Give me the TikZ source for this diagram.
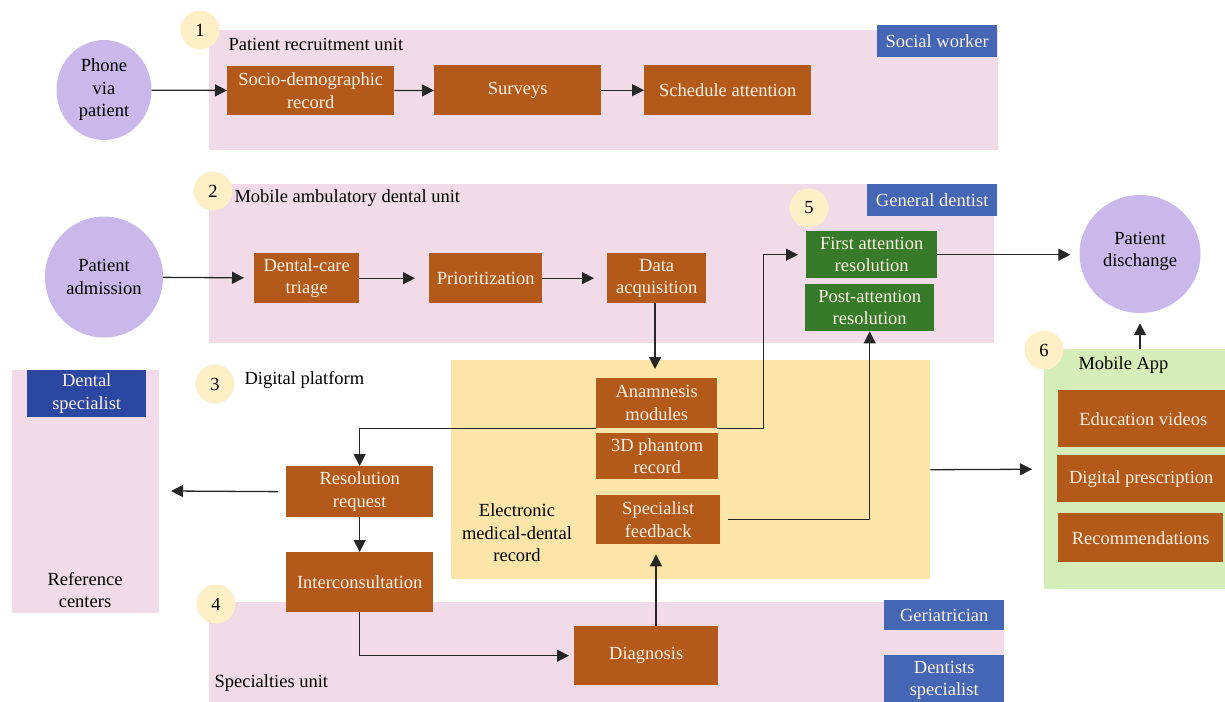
\documentclass[tikz,border=0pt]{standalone}
\usepackage{fontspec}
\usepackage{xcolor}
\usetikzlibrary{arrows.meta}
\usetikzlibrary{shapes.geometric}
\setmainfont{Liberation Serif}

\definecolor{unitpink}{HTML}{F2DBE8}
\definecolor{stepbrown}{HTML}{B35A1A}
\definecolor{stepgreen}{HTML}{367A2A}
\definecolor{roleblue}{HTML}{4566B4}
\definecolor{roledark}{HTML}{2B47A1}
\definecolor{platyellow}{HTML}{FCE5A9}
\definecolor{appgreen}{HTML}{D4EDB9}
\definecolor{dotyellow}{HTML}{FDF0C6}
\definecolor{endpurple}{HTML}{CBB8EA}
\definecolor{boxtext}{HTML}{FBF0E4}

\tikzset{
  region/.style={fill=unitpink, anchor=north west, inner sep=0pt},
  task/.style={fill=stepbrown, text=boxtext, align=center, anchor=north west, inner sep=0pt},
  done/.style={task, fill=stepgreen},
  role/.style={fill=roleblue, text=boxtext, align=center, anchor=north west, inner sep=0pt},
  numdot/.style={circle, fill=dotyellow, minimum size=39pt, inner sep=0pt},
  patient/.style={ellipse, fill=endpurple, align=center, inner sep=0pt},
  flow/.style={->, line width=1.3pt, draw=black!85},
  >={Triangle[length=12pt, width=12pt]}
}

\begin{document}
\begin{tikzpicture}[x=1pt, y=-1pt, font=\fontsize{18.5}{22.5}\selectfont]
      \useasboundingbox (0,0) rectangle (1225,701);

      % areas
      \node[region, minimum width=789pt, minimum height=120pt] (unit1) at (209,30) {};
      \node[region, minimum width=785pt, minimum height=159pt] (unit2) at (209,184) {};
      \node[region, minimum width=795pt, minimum height=110pt] (unit4) at (209,602) {};
      \node[region, minimum width=147pt, minimum height=243pt] (refctr) at (12,370) {};
      \node[region, fill=platyellow, minimum width=479pt, minimum height=219pt] (platform) at (451,360) {};
      \node[region, fill=appgreen, minimum width=200pt, minimum height=240pt] (mobapp) at (1044,349) {};

      \node[anchor=west] (unit1lbl) at (225,44) {Patient recruitment unit};
      \node[anchor=west] (unit2lbl) at (231,198) {Mobile ambulatory dental unit};
      \node[anchor=west] (platlbl) at (241,380) {Digital platform};
      \node[anchor=west] (unit4lbl) at (211,683) {Specialties unit};
      \node[anchor=west] (mobapplbl) at (1075,365) {Mobile App};
      \node[align=center] (refctrlbl) at (85,590) {Reference\\centers};
      \node[align=center] (emrlbl) at (517,533) {Electronic\\medical-dental\\record};

      \foreach \n/\x/\y in {1/200/30, 2/213/191, 3/215/384, 4/216/604, 5/809/208, 6/1044/350}
        \node[numdot] (num\n) at (\x,\y) {\n};

      % roles
      \node[role, minimum width=120pt, minimum height=32pt] (social) at (877,25) {Social worker};
      \node[role, minimum width=130pt, minimum height=32pt] (gendent) at (867,184) {General dentist};
      \node[role, minimum width=120pt, minimum height=30pt] (geri) at (884,600) {Geriatrician};
      \node[role, minimum width=120pt, minimum height=50pt] (dentspec) at (884,655) {Dentists\\specialist};
      \node[role, fill=roledark, minimum width=119pt, minimum height=47pt] (dentalspec) at (27,370) {Dental\\specialist};

      % patients
      \node[patient, minimum width=95pt, minimum height=100pt] (phone) at (104,90) {Phone\\via\\patient};
      \node[patient, minimum width=118pt, minimum height=121pt] (admission) at (104,277) {Patient\\admission};
      \node[patient, minimum width=121pt, minimum height=118pt] (discharge) at (1140,254) {Patient\\dischange\\[-13pt]{}};

      % steps
      \node[task, minimum width=167pt, minimum height=49pt] (socio) at (227,66) {Socio-demographic\\record};
      \node[task, minimum width=167pt, minimum height=50pt] (surveys) at (434,65) {Surveys};
      \node[task, minimum width=167pt, minimum height=50pt] (schedule) at (644,65) {Schedule attention};
      \node[task, minimum width=105pt, minimum height=50pt] (triage) at (254,253) {Dental-care\\triage};
      \node[task, minimum width=113pt, minimum height=50pt] (prior) at (429,253) {Prioritization};
      \node[task, minimum width=99pt, minimum height=50pt] (dataacq) at (607,253) {Data\\acquisition};
      \node[done, minimum width=131pt, minimum height=47pt] (first) at (806,231) {First attention\\resolution};
      \node[done, minimum width=129pt, minimum height=47pt] (post) at (805,284) {Post-attention\\resolution};
      \node[task, minimum width=121pt, minimum height=50pt] (anam) at (596,378) {Anamnesis\\modules};
      \node[task, minimum width=122pt, minimum height=46pt] (phantom) at (596,433) {3D phantom\\record};
      \node[task, minimum width=124pt, minimum height=49pt] (specfb) at (596,495) {Specialist\\feedback};
      \node[task, minimum width=147pt, minimum height=51pt] (resreq) at (286,466) {Resolution\\request};
      \node[task, minimum width=147pt, minimum height=60pt] (inter) at (286,552) {Interconsultation};
      \node[task, minimum width=144pt, minimum height=59pt] (diag) at (574,626) {Diagnosis};
      \node[task, minimum width=170pt, minimum height=57pt] (edu) at (1058,390) {Education videos};
      \node[task, minimum width=168pt, minimum height=47pt] (presc) at (1057,455) {Digital prescription};
      \node[task, minimum width=165pt, minimum height=49pt] (recom) at (1058,513) {Recommendations};

      \coordinate (refin) at (171,491);

      % connectors
      \draw[flow] (phone) -- (socio);
      \draw[flow] (socio) -- (surveys);
      \draw[flow] (surveys) -- (schedule);
      \draw[flow, shorten >=10pt] (admission) -- (triage);
      \draw[flow, shorten >=14pt] (triage) -- (prior);
      \draw[flow, shorten >=13pt] (prior) -- (dataacq);
      \draw[flow, shorten >=9pt] (dataacq.south -| 655,0) -- (anam.north -| 655,0);
      \draw[flow, shorten >=8pt] (anam.south east) -- ++(46,0) |- (first.west);
      \draw[flow] (anam.south west) -| (resreq.north);
      \draw[flow, shorten <=8pt] (resreq.west) -- (refin);
      \draw[flow] (resreq) -- (inter);
      \draw[flow, shorten >=5pt] (inter.south) |- (diag.west);
      \draw[flow, shorten >=10pt] (diag.north -| 656,0) -- (specfb.south -| 656,0);
      \draw[flow, shorten <=8pt] (specfb.east) -| (post.south);
      \draw[flow, shorten >=9pt] (first.east) -- (first.east -| discharge.west);
      \draw[flow, shorten >=12pt] (platform.east) -- (mobapp.west);
      \draw[flow, shorten >=10pt] (discharge.south |- mobapp.north) -- (discharge.south);
    \end{tikzpicture}
\end{document}
